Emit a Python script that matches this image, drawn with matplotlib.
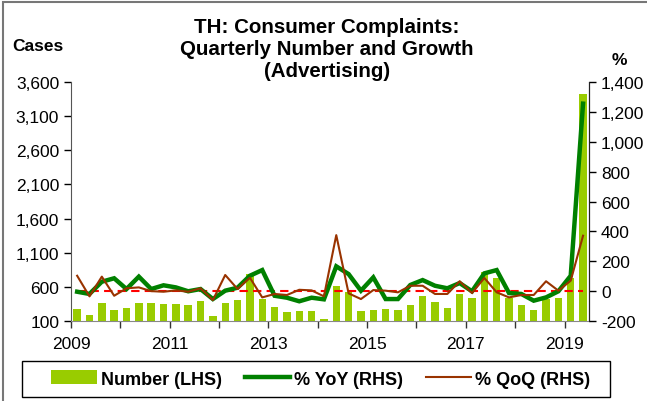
import matplotlib
matplotlib.use("Agg")
import matplotlib.pyplot as plt
from matplotlib.patches import Rectangle
from matplotlib.lines import Line2D
from matplotlib.patches import Patch

plt.rcParams['font.family'] = ['Liberation Sans', 'DejaVu Sans']

# Quarterly data 2009Q1 .. 2019Q2
number_cases = [276, 183, 359, 257, 290, 359, 359, 344, 349, 334, 393, 173,
                368, 412, 788, 427, 310, 232, 246, 246, 134, 617,
                520, 242, 261, 276, 256, 334, 461, 373, 295, 500, 432, 822,
                729, 441, 334, 256, 422, 441, 725, 3419]
yoy_pct = [-4, -19, 63, 86, 14, 97, 14, 39, 25, -1, 14, -53,
           3, 23, 103, 141, -31, -44, -68, -44, -55, 166,
           114, 3, 92, -53, -53, 41, 74, 36, 19, 54, -1, 119,
           141, -13, -19, -64, -42, -1, 103, 1255]
qoq_pct = [103, -35, 97, -31, 19, 25, 0, -4, 5, -4, 19, -60,
           108, 14, 90, -42, -19, -26, 9, 5, -35, 375,
           -15, -53, 7, 3, -8, 36, 36, -19, -19, 66, -13, 88,
           -8, -42, -26, -26, 66, 3, 70, 371]
years = [2009, 2010, 2011, 2012, 2013, 2014, 2015, 2016, 2017, 2018, 2019]
lhs_ticks = [100, 600, 1100, 1600, 2100, 2600, 3100, 3600]
rhs_ticks = [-200, 0, 200, 400, 600, 800, 1000, 1200, 1400]

n = len(number_cases)
x = list(range(n))

W, H = 647, 402
fig = plt.figure(figsize=(W / 100, H / 100), dpi=100)
ax = fig.add_axes([0.1097, 0.199, 0.801, 0.5945])
ax2 = ax.twinx()

ax.bar(x, [v - 100 for v in number_cases], bottom=100, width=0.6,
       color='#99CC00', zorder=2)
ax.set_ylim(100, 3600)
ax.set_xlim(-0.5, n - 0.5)
ax.set_yticks(lhs_ticks)
ax.set_yticklabels([f"{v:,}" for v in lhs_ticks])

ax2.plot(x, [0] * n, color='#FF0000', lw=1.5, ls=(0, (4, 2.5)), zorder=3)
ax2.plot(x, yoy_pct, color='#008000', lw=3.2, zorder=4, solid_joinstyle='miter')
ax2.plot(x, qoq_pct, color='#993300', lw=1.5, zorder=5)
ax2.set_ylim(-200, 1400)
ax2.set_yticks(rhs_ticks)
ax2.set_yticklabels([f"{v:,}" for v in rhs_ticks])

xt = [-0.5 + 4 * i for i in range(len(years))]
ax.set_xticks(xt)
ax.set_xticklabels([str(y) if (y - 2009) % 2 == 0 else '' for y in years])

for a in (ax, ax2):
    a.spines['top'].set_visible(False)
ax.spines['left'].set_color('#555555')
ax.spines['bottom'].set_color('#888888')
ax2.spines['right'].set_color('#222222')
ax2.spines['left'].set_visible(False)
ax2.spines['bottom'].set_visible(False)
ax.tick_params(axis='both', labelsize=12.5, length=5, width=1, colors='black')
ax.tick_params(axis='x', pad=6, color='#333333')
ax2.tick_params(axis='y', labelsize=12.5, length=5, width=1)

fig.text(0.505, 0.955, "TH: Consumer Complaints:\nQuarterly Number and Growth\n(Advertising)",
         ha='center', va='top', fontsize=14.8, fontweight='bold', linespacing=1.2)
fig.text(0.019, 0.885, "Cases", ha='left', va='center', fontsize=12.5, fontweight='bold')
fig.text(0.957, 0.85, "%", ha='center', va='center', fontsize=12.5, fontweight='bold')

handles = [Patch(facecolor='#99CC00', edgecolor='none'),
           Line2D([], [], color='#008000', lw=3.2),
           Line2D([], [], color='#993300', lw=1.5)]
labels = ["Number (LHS)", "% YoY (RHS)", "% QoQ (RHS)"]
leg = fig.legend(handles, labels, loc='center', bbox_to_anchor=(321 / W, 1 - 380 / H), ncol=3,
                 frameon=False, prop={'weight': 'bold', 'size': 13},
                 handlelength=2.5, handleheight=0.8,
                 columnspacing=1.25, handletextpad=0.25, borderpad=0.0)

# legend frame
fig.patches.append(Rectangle((22 / W, 1 - 398 / H), (610 - 22) / W, 36 / H,
                             transform=fig.transFigure, fill=False,
                             edgecolor='black', lw=1.0))
# outer chart border
fig.patches.append(Rectangle((0.004, -0.1), 1.2, 1.092, transform=fig.transFigure,
                             fill=False, edgecolor='#777777', lw=1.5))

fig.savefig('out.png', dpi=100)
